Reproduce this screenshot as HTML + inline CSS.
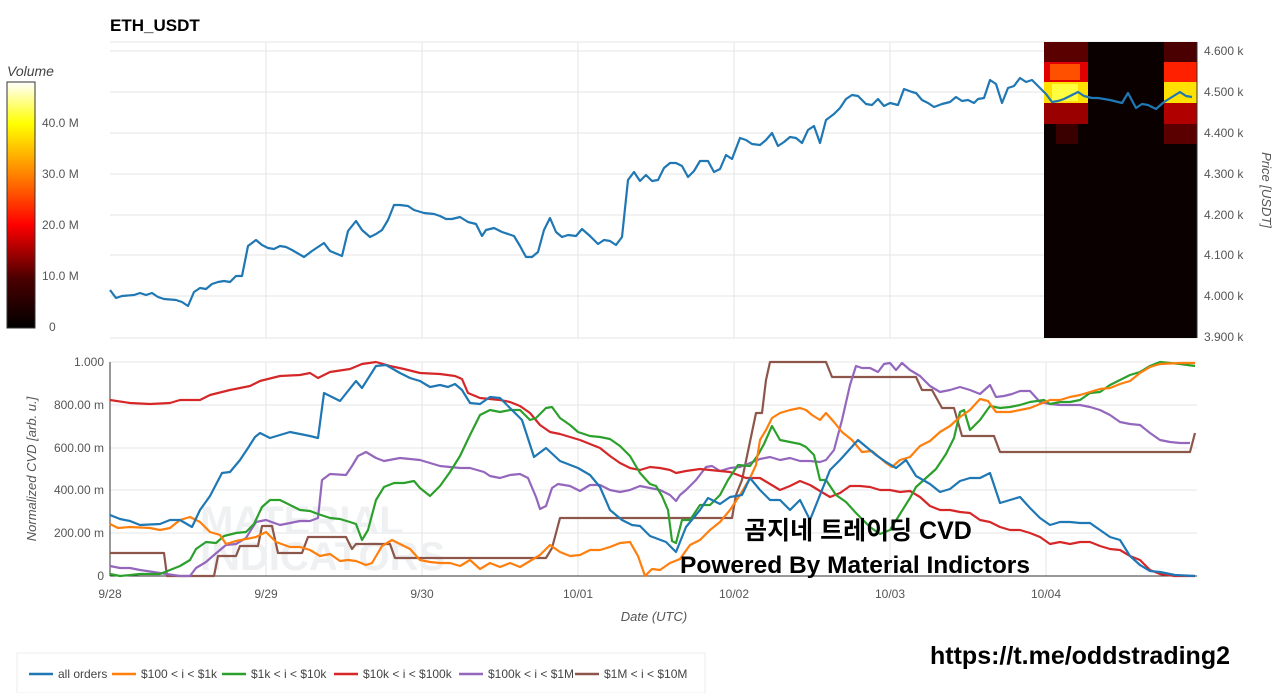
<!DOCTYPE html><html><head><meta charset="utf-8"><style>body{margin:0;background:#fff;width:1280px;height:693px;overflow:hidden;font-family:"Liberation Sans",sans-serif}</style></head><body>
<svg width="1280" height="693" xmlns="http://www.w3.org/2000/svg" font-family="Liberation Sans, Noto Sans CJK KR, sans-serif">
<defs><linearGradient id="cb" x1="0" y1="1" x2="0" y2="0">
<stop offset="0" stop-color="#000"/><stop offset="0.2" stop-color="#4a0000"/><stop offset="0.42" stop-color="#ff0000"/><stop offset="0.62" stop-color="#ff8000"/><stop offset="0.83" stop-color="#ffff00"/><stop offset="1" stop-color="#fff"/></linearGradient></defs>
<text x="110" y="31" font-size="17" font-weight="bold">ETH_USDT</text>
<text x="7" y="76" font-size="14" font-style="italic" fill="#444">Volume</text>
<rect x="7" y="82" width="28" height="246" fill="url(#cb)" stroke="#333"/>
<g font-size="12" fill="#555"><text x="42" y="127">40.0 M</text><text x="42" y="178">30.0 M</text><text x="42" y="229">20.0 M</text><text x="42" y="280">10.0 M</text><text x="49" y="331">0</text></g>
<g stroke="#e6e6e6" stroke-width="1">
<line x1="110" y1="42" x2="1197" y2="42"/><line x1="110" y1="51" x2="1197" y2="51"/><line x1="110" y1="92" x2="1197" y2="92"/><line x1="110" y1="133" x2="1197" y2="133"/><line x1="110" y1="174" x2="1197" y2="174"/><line x1="110" y1="215" x2="1197" y2="215"/><line x1="110" y1="255" x2="1197" y2="255"/><line x1="110" y1="296" x2="1197" y2="296"/><line x1="110" y1="338" x2="1197" y2="338"/>
<line x1="266" y1="42" x2="266" y2="338"/><line x1="422" y1="42" x2="422" y2="338"/><line x1="578" y1="42" x2="578" y2="338"/><line x1="734" y1="42" x2="734" y2="338"/><line x1="890" y1="42" x2="890" y2="338"/>
<line x1="110" y1="362" x2="1197" y2="362"/><line x1="110" y1="405" x2="1197" y2="405"/><line x1="110" y1="448" x2="1197" y2="448"/><line x1="110" y1="490" x2="1197" y2="490"/><line x1="110" y1="533" x2="1197" y2="533"/>
<line x1="266" y1="362" x2="266" y2="576"/><line x1="422" y1="362" x2="422" y2="576"/><line x1="578" y1="362" x2="578" y2="576"/><line x1="734" y1="362" x2="734" y2="576"/><line x1="890" y1="362" x2="890" y2="576"/><line x1="1046" y1="362" x2="1046" y2="576"/>
</g>
<rect x="1044" y="42" width="153" height="296" fill="#0a0000"/>
<g>
<rect x="1044" y="42" width="44" height="20" fill="#5a0000"/><rect x="1044" y="62" width="44" height="20" fill="#e00000"/><rect x="1050" y="64" width="30" height="16" fill="#ff5000"/>
<rect x="1044" y="82" width="44" height="21" fill="#ffe000"/><rect x="1052" y="84" width="26" height="17" fill="#ffff40"/>
<rect x="1044" y="103" width="44" height="21" fill="#9a0000"/><rect x="1056" y="124" width="22" height="20" fill="#3a0000"/>
<rect x="1164" y="42" width="33" height="20" fill="#4a0000"/><rect x="1164" y="62" width="33" height="20" fill="#ff2000"/>
<rect x="1164" y="82" width="33" height="21" fill="#ffe000"/><rect x="1164" y="103" width="33" height="21" fill="#b00000"/><rect x="1164" y="124" width="33" height="20" fill="#5a0000"/>
</g>
<g stroke="#333"><line x1="1197" y1="42" x2="1197" y2="338"/><line x1="110" y1="576" x2="1197" y2="576"/><line x1="110" y1="362" x2="110" y2="576"/></g>
<g font-size="12" fill="#555">
<text x="1204" y="55">4.600 k</text><text x="1204" y="96">4.500 k</text><text x="1204" y="137">4.400 k</text><text x="1204" y="178">4.300 k</text><text x="1204" y="219">4.200 k</text><text x="1204" y="259">4.100 k</text><text x="1204" y="300">4.000 k</text><text x="1204" y="341">3.900 k</text>
<text x="104" y="366" text-anchor="end">1.000</text><text x="104" y="409" text-anchor="end">800.00 m</text><text x="104" y="452" text-anchor="end">600.00 m</text><text x="104" y="494" text-anchor="end">400.00 m</text><text x="104" y="537" text-anchor="end">200.00 m</text><text x="104" y="580" text-anchor="end">0</text>
<text x="110" y="598" text-anchor="middle">9/28</text><text x="266" y="598" text-anchor="middle">9/29</text><text x="422" y="598" text-anchor="middle">9/30</text><text x="578" y="598" text-anchor="middle">10/01</text><text x="734" y="598" text-anchor="middle">10/02</text><text x="890" y="598" text-anchor="middle">10/03</text><text x="1046" y="598" text-anchor="middle">10/04</text>
</g>
<text x="0" y="0" font-size="13" font-style="italic" fill="#555" transform="translate(1262,190) rotate(90)" text-anchor="middle">Price [USDT]</text>
<text x="0" y="0" font-size="13" font-style="italic" fill="#555" transform="translate(36,469) rotate(-90)" text-anchor="middle">Normalized CVD [arb. u.]</text>
<text x="654" y="621" font-size="13" font-style="italic" fill="#555" text-anchor="middle">Date (UTC)</text>
<g font-size="40" font-weight="bold" fill="#eef0f2"><text x="200" y="534">MATERIAL</text><text x="200" y="570">INDICATORS</text></g>
<g fill="none" stroke-width="2.2" stroke-linejoin="round">
<polyline stroke="#1f77b4" points="110,290 116,298 122,296 134,295 140,293 146,295 152,293 158,297 164,299 176,300 182,302 188,306 194,292 200,288 206,289 212,284 218,282 224,281 230,282 236,276 242,276 248,246 256,240 262,245 268,248 274,249 280,246 286,247 292,250 304,257 312,251 318,247 324,243 330,251 342,256 348,231 356,221 362,230 370,237 376,234 382,230 388,220 394,205 400,205 408,206 414,210 424,213 434,214 440,216 446,219 452,219 460,217 468,222 476,224 482,236 486,230 494,228 502,232 514,236 520,246 526,257 532,257 538,252 544,230 550,218 556,232 562,237 568,235 576,236 582,229 590,236 598,244 604,240 610,241 616,245 622,237 628,180 634,172 640,181 646,175 652,181 658,180 664,168 670,163 676,163 682,166 688,177 694,171 700,161 708,161 714,172 720,169 726,155 732,159 740,138 746,140 752,144 760,145 766,140 772,133 778,146 784,142 790,137 796,138 802,143 808,130 814,126 820,143 826,120 834,114 840,108 846,99 852,95 858,96 866,104 872,105 878,99 884,106 890,103 898,105 904,89 912,92 916,93 922,100 928,103 934,107 942,104 950,102 956,97 962,101 968,100 974,103 978,99 984,98 990,80 996,84 1002,103 1008,88 1014,86 1020,78 1026,82 1032,80 1040,88 1046,94 1052,102 1058,101 1064,99 1072,95 1078,92 1084,96 1092,98 1098,98 1110,100 1122,103 1128,93 1136,108 1142,104 1148,105 1156,109 1164,102 1172,97 1180,92 1186,96 1192,97"/>
<polyline stroke="#8c564b" points="110,553 164,553 167,576 214,576 218,556 236,556 240,546 258,546 262,526 272,526 278,553 302,553 308,537 346,537 352,549 356,544 390,544 395,558 546,558 552,548 560,518 732,518 736,495 742,480 756,413 762,413 766,380 770,362 826,362 832,377 916,377 922,390 932,390 942,408 954,408 962,436 994,436 1000,452 1190,452 1195,433"/>
<polyline stroke="#9467bd" points="110,566 120,568 130,568 140,570 160,573 180,576 190,576 196,568 206,562 214,555 226,545 236,544 246,538 256,522 266,520 280,525 300,521 310,521 318,518 322,480 330,474 346,475 352,466 358,456 366,452 376,458 384,461 400,458 420,460 440,466 460,468 470,468 484,472 490,476 500,478 510,475 520,474 528,478 536,497 540,509 546,506 552,488 558,484 570,486 580,491 590,485 600,485 610,490 620,492 630,490 640,486 650,488 660,490 670,495 676,501 680,495 686,490 696,480 706,467 712,466 720,471 730,468 740,467 750,463 760,459 770,457 780,460 790,458 800,461 810,461 820,462 826,460 834,450 842,420 850,385 856,366 862,368 870,368 878,372 884,364 890,363 896,370 902,363 910,370 920,376 930,386 940,392 950,390 960,387 970,390 980,394 990,385 996,397 1004,396 1012,394 1020,391 1030,391 1040,402 1050,404 1060,405 1070,405 1080,405 1090,407 1100,410 1110,415 1120,422 1130,424 1140,425 1150,433 1160,440 1170,442 1180,443 1190,443"/>
<polyline stroke="#d62728" points="110,400 130,403 150,404 170,403 180,400 200,400 210,395 230,390 250,386 260,381 280,376 300,375 310,373 318,378 330,372 350,369 362,364 376,362 390,366 404,369 420,373 440,374 455,376 462,379 468,393 480,398 500,400 510,402 520,406 530,413 540,425 550,432 560,434 570,437 580,440 590,444 600,448 610,456 620,463 630,468 640,470 650,467 660,468 670,470 676,473 686,471 700,469 710,470 730,472 746,478 760,478 770,484 780,490 790,486 800,481 810,485 820,491 830,497 840,493 850,486 860,486 870,487 880,490 890,490 900,492 910,491 920,497 930,506 940,510 950,510 960,512 970,513 980,520 990,522 1000,527 1010,530 1020,530 1030,533 1040,537 1050,544 1060,542 1070,544 1080,542 1090,542 1100,546 1110,549 1120,550 1130,556 1140,560 1150,570 1160,574 1175,576 1195,576"/>
<polyline stroke="#2ca02c" points="110,574 120,576 140,574 160,574 170,570 180,566 190,560 196,549 206,542 216,543 224,536 236,533 246,532 254,524 262,507 270,500 280,500 300,510 310,511 318,514 330,518 340,519 350,522 356,524 362,540 368,530 376,500 384,487 394,483 404,483 414,481 420,488 430,496 440,486 450,472 460,456 470,435 480,415 490,410 500,412 510,410 520,410 530,420 536,418 546,408 552,407 560,418 570,425 578,432 590,436 600,437 610,439 620,446 630,456 640,473 650,484 656,486 662,496 668,510 672,541 676,543 682,520 690,520 700,505 710,505 720,495 728,480 738,465 750,466 758,455 764,444 772,426 780,440 790,442 800,444 806,447 814,455 820,480 826,480 836,495 846,502 856,513 870,527 880,534 890,530 900,514 910,498 916,487 926,478 936,469 946,454 954,438 960,412 964,410 970,430 980,420 990,406 1000,408 1010,407 1020,405 1030,402 1044,400 1050,404 1060,402 1070,402 1080,400 1090,393 1100,392 1110,385 1120,380 1130,375 1140,372 1150,366 1160,362 1180,364 1195,366"/>
<polyline stroke="#ff7f0e" points="110,524 118,528 130,527 150,528 160,530 170,528 180,520 190,517 200,522 210,532 220,535 226,544 236,541 246,539 256,537 266,532 276,542 290,547 300,547 310,550 320,556 330,554 340,561 348,560 356,561 366,565 372,563 382,546 392,540 400,544 410,549 420,560 430,562 440,563 450,563 460,566 470,560 480,569 490,563 500,567 510,563 520,567 530,561 540,555 550,545 560,552 570,556 580,555 590,550 600,550 610,547 620,543 630,542 638,556 645,576 652,569 660,570 670,563 680,559 690,545 700,540 710,530 720,522 730,510 740,495 750,478 756,465 760,440 766,430 772,418 780,413 790,410 800,408 806,410 812,415 820,420 826,413 834,422 842,432 852,440 862,452 872,451 886,463 892,467 900,460 910,457 920,446 930,441 940,432 950,426 960,417 970,410 980,399 988,401 996,412 1010,412 1020,410 1030,408 1040,404 1050,400 1060,400 1070,397 1080,395 1090,392 1100,389 1110,388 1120,384 1130,381 1140,373 1150,367 1160,364 1180,363 1195,363"/>
<polyline stroke="#1f77b4" points="110,515 120,519 130,521 140,525 160,524 170,520 180,520 192,527 200,510 210,496 222,473 230,472 240,460 248,448 255,437 260,433 270,438 290,432 300,434 310,436 318,438 324,393 340,401 348,391 356,381 362,388 376,366 386,365 400,373 410,378 420,381 430,387 440,385 448,387 455,384 462,390 470,403 480,404 490,397 500,398 510,408 522,420 534,457 546,448 560,461 578,468 590,475 600,487 610,510 622,520 632,525 640,526 650,536 666,542 676,552 686,527 700,510 708,498 720,504 730,497 742,495 750,478 760,490 770,500 780,500 790,510 800,500 810,520 830,470 840,460 858,440 876,455 886,462 896,468 906,460 916,476 930,484 940,492 950,489 960,481 970,478 980,478 990,473 1000,503 1010,500 1020,497 1030,508 1040,518 1050,525 1060,522 1070,522 1080,523 1090,523 1100,530 1110,537 1120,540 1130,556 1140,565 1150,571 1160,572 1175,575 1195,576"/>
</g>
<g font-weight="bold" fill="#000" font-family="Liberation Sans, Noto Sans CJK KR, sans-serif">
<text x="858" y="539" text-anchor="middle" font-size="25">곰지네 트레이딩 CVD</text>
<text x="855" y="573" text-anchor="middle" font-size="24.5">Powered By Material Indictors</text>
<text x="1080" y="664" text-anchor="middle" font-size="25">https://t.me/oddstrading2</text>
</g>
<rect x="17" y="653" width="688" height="40" fill="#fff" stroke="#eee"/>
<g font-size="12" fill="#444" stroke-width="2.5">
<line x1="29" y1="674" x2="53" y2="674" stroke="#1f77b4"/><text x="58" y="678">all orders</text>
<line x1="112" y1="674" x2="136" y2="674" stroke="#ff7f0e"/><text x="141" y="678">$100 &lt; i &lt; $1k</text>
<line x1="222" y1="674" x2="246" y2="674" stroke="#2ca02c"/><text x="251" y="678">$1k &lt; i &lt; $10k</text>
<line x1="334" y1="674" x2="358" y2="674" stroke="#d62728"/><text x="363" y="678">$10k &lt; i &lt; $100k</text>
<line x1="459" y1="674" x2="483" y2="674" stroke="#9467bd"/><text x="488" y="678">$100k &lt; i &lt; $1M</text>
<line x1="575" y1="674" x2="599" y2="674" stroke="#8c564b"/><text x="604" y="678">$1M &lt; i &lt; $10M</text>
</g>
</svg></body></html>
